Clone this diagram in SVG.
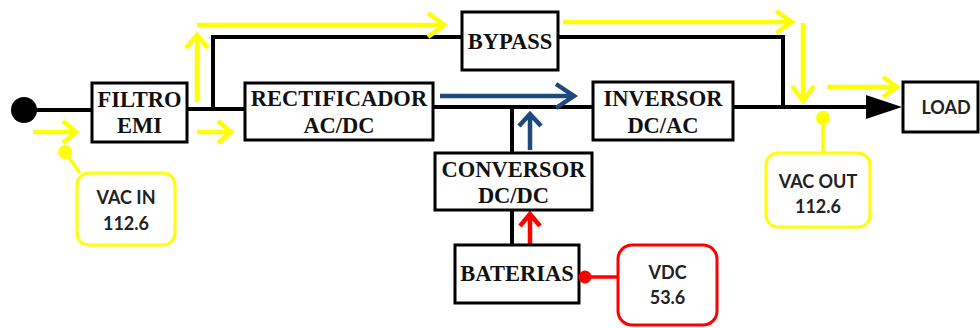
<svg xmlns="http://www.w3.org/2000/svg" width="980" height="328" viewBox="0 0 980 328">
<style>
.box{fill:#fff;stroke:#000;stroke-width:3}
.lbl{font-family:"Liberation Serif","Times New Roman",serif;font-weight:bold;font-size:22.5px;fill:#111;text-anchor:middle}
.cl{font-family:Lato,"Liberation Sans",sans-serif;font-weight:bold;font-size:18px;fill:#222;text-anchor:middle}
.blk{fill:none;stroke:#000;stroke-width:4}
.y{fill:none;stroke:#ffff00;stroke-width:4.5}
.b{fill:none;stroke:#1f497d;stroke-width:4.5}
.r{fill:none;stroke:#ff0000;stroke-width:4.5}
.ycall{fill:#fff;stroke:#ffff00;stroke-width:3}
.rcall{fill:#fff;stroke:#ff0000;stroke-width:3}
</style>
<rect width="980" height="328" fill="#fff"/>
<g id="connectors">
<path class="blk" d="M24,110 H92 M187,109 H245 M433,107 H593 M733,107 H868"/>
<polygon points="866,95 902,107 866,119" fill="#000"/>
<path class="blk" d="M213,109 V37 H462 M558,37 H783 V107"/>
<path class="blk" d="M512,107 V153 M512,210 V245"/>
<circle cx="24" cy="110" r="13" fill="#000"/>
<path class="y" d="M33,132 H76 M63,121 L76,132 L63,143"/>
<path class="y" d="M197,132 H231 M218,121 L231,132 L218,143"/>
<path class="y" d="M197,102 V35 M186,48 L197,35 L208,48"/>
<path class="y" d="M197,25 H444 M428,13 L444,25 L428,37"/>
<path class="y" d="M563,22 H792 M776,11 L792,22 L776,33"/>
<path class="y" d="M803,23 V101 M792,86 L803,101 L814,86"/>
<path class="y" d="M827,87 H897 M883,77 L897,87 L883,97"/>
<path class="b" d="M440,96 H574 M556,84 L574,96 L556,108"/>
<path class="b" d="M530,150 V114 M519,126 L530,114 L541,126"/>
<path class="r" d="M530,245 V214 M520,226 L530,214 L540,226"/>
</g>
<g id="filtro">
<rect class="box" x="92" y="83" width="95" height="59"/>
<text class="lbl" x="139.5" y="107">FILTRO</text>
<text class="lbl" x="139.5" y="133">EMI</text>
</g>
<g id="rectificador">
<rect class="box" x="245" y="83" width="188" height="57"/>
<text class="lbl" x="339" y="106">RECTIFICADOR</text>
<text class="lbl" x="339" y="133">AC/DC</text>
</g>
<g id="bypass">
<rect class="box" x="462" y="12" width="96" height="58"/>
<text class="lbl" x="510" y="49">BYPASS</text>
</g>
<g id="inversor">
<rect class="box" x="593" y="82" width="140" height="58"/>
<text class="lbl" x="663" y="106">INVERSOR</text>
<text class="lbl" x="663" y="133">DC/AC</text>
</g>
<g id="conversor">
<rect class="box" x="435" y="153" width="157" height="57"/>
<text class="lbl" x="513.5" y="177">CONVERSOR</text>
<text class="lbl" x="513.5" y="203">DC/DC</text>
</g>
<g id="baterias">
<rect class="box" x="455" y="245" width="124" height="58"/>
<text class="lbl" x="517" y="281">BATERIAS</text>
</g>
<g id="load">
<rect class="box" x="903" y="82" width="75" height="50"/>
<text class="cl" x="946" y="114">LOAD</text>
</g>
<g id="vac-in">
<path d="M65,152 L80,173" stroke="#ffff00" stroke-width="3.5" fill="none"/>
<circle cx="65" cy="152" r="7" fill="#ffff00"/>
<rect class="ycall" x="77" y="173" width="98" height="72" rx="12"/>
<text class="cl" x="126" y="204">VAC IN</text>
<text class="cl" x="126" y="230">112.6</text>
</g>
<g id="vac-out">
<path d="M823,118 V153" stroke="#ffff00" stroke-width="3.5" fill="none"/>
<circle cx="823" cy="118" r="7" fill="#ffff00"/>
<rect class="ycall" x="766" y="153" width="104" height="74" rx="12"/>
<text class="cl" x="818" y="188">VAC OUT</text>
<text class="cl" x="818" y="213">112.6</text>
</g>
<g id="vdc">
<path d="M585,277 H618" stroke="#ff0000" stroke-width="3.5" fill="none"/>
<circle cx="585" cy="277" r="6.5" fill="#ff0000"/>
<rect class="rcall" x="618" y="245" width="99" height="80" rx="14"/>
<text class="cl" x="667.5" y="279">VDC</text>
<text class="cl" x="667.5" y="304">53.6</text>
</g>
</svg>
